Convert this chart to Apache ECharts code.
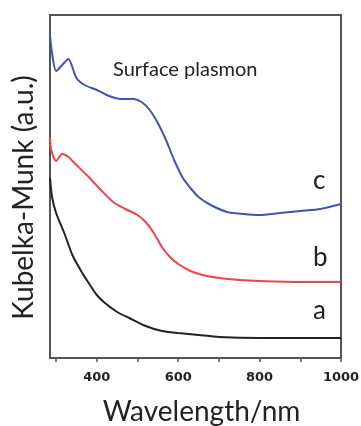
<!DOCTYPE html>
<html>
<head>
<meta charset="utf-8">
<script src="https://cdn.jsdelivr.net/npm/echarts@6/dist/echarts.min.js"></script>
<style>
  html, body { margin: 0; padding: 0; background: #fff; }
  #chart { width: 361px; height: 426px; }
</style>
</head>
<body>
<div id="chart"></div>
<script>
// wavelength (nm) and Kubelka-Munk intensity (arbitrary units)
const cWave = [285, 290, 300, 315, 330, 350, 370, 400, 430, 460, 490, 510, 530, 550, 570, 590, 610, 630, 650, 680, 720, 760, 800, 850, 900, 950, 1000];
const cKM = [323, 305, 287, 293, 299, 280, 273, 268, 262, 259, 259, 256, 248, 235, 218, 198, 181, 170, 161, 153, 146, 144, 143, 145, 147, 149, 154];

const bWave = [285, 288, 300, 315, 330, 350, 380, 410, 440, 470, 500, 520, 540, 560, 580, 600, 630, 660, 700, 750, 800, 900, 1000];
const bKM = [221, 208, 197, 204, 201, 193, 181, 168, 156, 149, 143, 136, 125, 111, 101, 94, 87, 83, 80, 78, 77, 76, 76];

const aWave = [285, 290, 300, 320, 340, 360, 380, 400, 420, 450, 480, 520, 560, 600, 650, 700, 800, 900, 1000];
const aKM = [180, 161, 145, 125, 103, 88, 75, 63, 55, 46, 40, 32, 27, 25, 23, 21, 20, 20, 20];

const tickValues = [300, 400, 500, 600, 700, 800, 900, 1000];
const labelValues = [400, 600, 800, 1000];

const pair = (xs, ys) => xs.map((x, i) => [x, ys[i]]);

const chart = echarts.init(document.getElementById("chart"));

const axisColor = "#555";
const fontFamily = "Lato, 'Open Sans', sans-serif";

function lineSeries(name, data, color) {
  return {
    name: name,
    type: "line",
    data: data,
    smooth: 0.25,
    showSymbol: false,
    lineStyle: { color: color, width: 2 },
  };
}

// plain frame line for the right side of the box
const frameAxis = {
  type: "value",
  axisLine: { show: true, onZero: false, lineStyle: { color: axisColor, width: 2 } },
  axisTick: { show: false },
  axisLabel: { show: false },
  splitLine: { show: false },
};

chart.setOption({
  animation: false,
  grid: {
    left: 50, top: 15, right: 20, bottom: 68,
    outerBoundsMode: "none",
    containLabel: false,
  },
  xAxis: [
    {
      type: "value",
      min: 285,
      max: 1000,
      name: "Wavelength/nm",
      nameLocation: "middle",
      nameGap: 40,
      nameTextStyle: { fontSize: 28, color: "#222", fontFamily: fontFamily, padding: [0, 0, 0, 12] },
      axisLine: { onZero: false, lineStyle: { color: axisColor, width: 2 } },
      axisTick: { show: true, length: 4, customValues: tickValues, lineStyle: { color: axisColor, width: 1.5 } },
      axisLabel: {
        customValues: labelValues,
        formatter: (v) => String(v),
        margin: 13,
        fontSize: 13,
        fontWeight: "bold",
        color: "#222",
        fontFamily: "'DejaVu Sans', sans-serif",
      },
      splitLine: { show: false },
    },
  ],
  yAxis: [
    {
      type: "value",
      min: 0,
      max: 343,
      name: "Kubelka-Munk (a.u.)",
      nameLocation: "middle",
      nameGap: 12,
      nameTextStyle: { fontSize: 28, color: "#222", fontFamily: fontFamily, padding: [0, 22, 0, 0] },
      axisLine: { show: true, onZero: false, lineStyle: { color: axisColor, width: 2 } },
      axisTick: { show: false },
      axisLabel: { show: false },
      splitLine: { show: false },
    },
    Object.assign({ position: "right", min: 0, max: 343 }, frameAxis),
  ],
  graphic: [
    {
      type: "line",
      shape: { x1: 49, y1: 15, x2: 342, y2: 15 },
      style: { stroke: axisColor, lineWidth: 2 },
      silent: true,
      z: 100,
    },
    {
      type: "text",
      x: 113,
      y: 60,
      style: { text: "Surface plasmon", fontSize: 20, fill: "#222", fontFamily: fontFamily },
    },
    {
      type: "text",
      x: 313,
      y: 168,
      style: { text: "c", fontSize: 26, fill: "#222", fontFamily: fontFamily },
    },
    {
      type: "text",
      x: 313,
      y: 245,
      style: { text: "b", fontSize: 26, fill: "#222", fontFamily: fontFamily },
    },
    {
      type: "text",
      x: 313,
      y: 298,
      style: { text: "a", fontSize: 26, fill: "#222", fontFamily: fontFamily },
    },
  ],
  series: [
    lineSeries("c", pair(cWave, cKM), "#4452b3"),
    lineSeries("b", pair(bWave, bKM), "#f2434a"),
    lineSeries("a", pair(aWave, aKM), "#222222"),
  ],
});
</script>
</body>
</html>
